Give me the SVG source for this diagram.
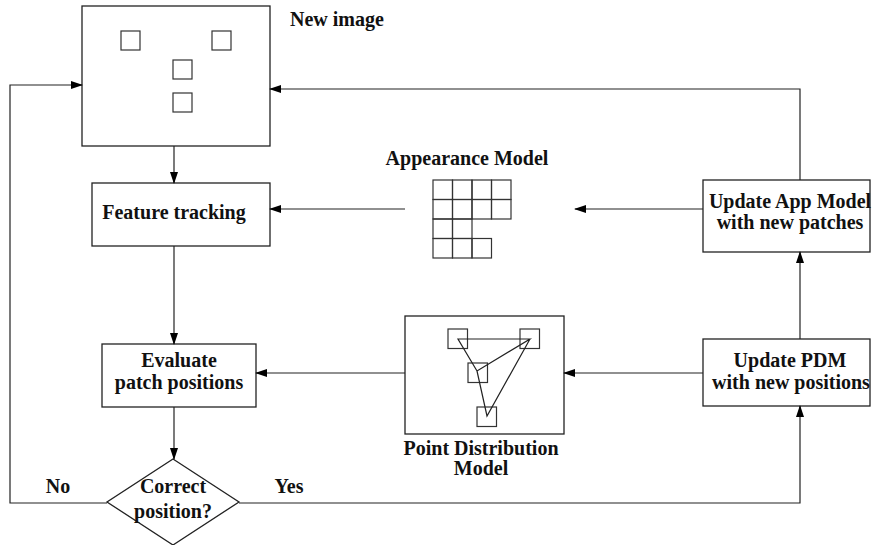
<svg xmlns="http://www.w3.org/2000/svg" width="872" height="545" viewBox="0 0 872 545">
<style>
.b{fill:#fff;stroke:#222;stroke-width:1.3}
.s{fill:none;stroke:#333;stroke-width:1.2}
.t{font-family:"Liberation Serif","Times New Roman",serif;font-weight:bold;font-size:20px;fill:#111;text-anchor:middle}
.c{fill:none;stroke:#222;stroke-width:1.2}
</style>
<defs>
<marker id="a" markerWidth="12" markerHeight="8" refX="11" refY="4" orient="auto" markerUnits="userSpaceOnUse">
<path d="M0,0 L12,4 L0,8 Z" fill="#000"/>
</marker>
</defs>
<rect width="872" height="545" fill="#fff"/>
<g id="new-image">
<rect class="b" x="82" y="6" width="188" height="140"/>
<rect class="s" x="121" y="31" width="19" height="19"/>
<rect class="s" x="212" y="31" width="19" height="19"/>
<rect class="s" x="173" y="60" width="19" height="19"/>
<rect class="s" x="173" y="93" width="19" height="19"/>
<text class="t" x="290" y="26" style="text-anchor:start">New image</text>
</g>
<g id="feature-tracking">
<rect class="b" x="92" y="183" width="178" height="63"/>
<text class="t" x="174" y="219">Feature tracking</text>
</g>
<g id="evaluate">
<rect class="b" x="102" y="344" width="154" height="63"/>
<text class="t" x="179" y="367">Evaluate</text>
<text class="t" x="179" y="389">patch positions</text>
</g>
<g id="decision">
<path class="b" d="M173,459 L239,502 L173,545 L107,502 Z"/>
<text class="t" x="173" y="493">Correct</text>
<text class="t" x="173" y="518">position?</text>
</g>
<g id="appearance-model">
<text class="t" x="467" y="165">Appearance Model</text>
<g class="s">
<rect x="433" y="180" width="19.5" height="19.5"/>
<rect x="452.5" y="180" width="19.5" height="19.5"/>
<rect x="472" y="180" width="19.5" height="19.5"/>
<rect x="491.5" y="180" width="19.5" height="19.5"/>
<rect x="433" y="199.5" width="19.5" height="19.5"/>
<rect x="452.5" y="199.5" width="19.5" height="19.5"/>
<rect x="472" y="199.5" width="19.5" height="19.5"/>
<rect x="491.5" y="199.5" width="19.5" height="19.5"/>
<rect x="433" y="219" width="19.5" height="19.5"/>
<rect x="452.5" y="219" width="19.5" height="19.5"/>
<rect x="433" y="238.5" width="19.5" height="19.5"/>
<rect x="452.5" y="238.5" width="19.5" height="19.5"/>
<rect x="472" y="238.5" width="19.5" height="19.5"/>
</g>
</g>
<g id="pdm">
<rect class="b" x="405" y="316" width="159" height="118"/>
<rect class="s" x="448" y="329" width="19.5" height="19.5"/>
<rect class="s" x="520" y="329" width="19.5" height="19.5"/>
<rect class="s" x="468" y="363" width="19.5" height="19.5"/>
<rect class="s" x="477" y="407" width="19.5" height="19.5"/>
<path class="c" d="M458,339 L530,339 L477,371 Z M477,371 L487,416 L530,339"/>
<text class="t" x="481" y="455">Point Distribution</text>
<text class="t" x="481" y="475">Model</text>
</g>
<g id="update-app">
<rect class="b" x="703" y="180" width="167" height="72"/>
<text class="t" x="790" y="208">Update App Model</text>
<text class="t" x="790" y="229">with new patches</text>
</g>
<g id="update-pdm">
<rect class="b" x="703" y="339" width="167" height="67"/>
<text class="t" x="790" y="367">Update PDM</text>
<text class="t" x="791" y="389">with new positions</text>
</g>
<g id="connectors" class="c">
<path d="M174,146 L174,183" marker-end="url(#a)"/>
<path d="M174,246 L174,344" marker-end="url(#a)"/>
<path d="M174,407 L174,459" marker-end="url(#a)"/>
<path d="M107,503 L10,503 L10,85 L82,85" marker-end="url(#a)"/>
<path d="M239,503 L800,503 L800,406" marker-end="url(#a)"/>
<path d="M800,339 L800,252" marker-end="url(#a)"/>
<path d="M800,180 L800,89 L270,89" marker-end="url(#a)"/>
<path d="M703,209 L575,209" marker-end="url(#a)"/>
<path d="M405,209 L270,209" marker-end="url(#a)"/>
<path d="M703,373 L564,373" marker-end="url(#a)"/>
<path d="M405,373 L256,373" marker-end="url(#a)"/>
<text class="t" x="58" y="493" style="stroke:none">No</text>
<text class="t" x="289" y="493" style="stroke:none">Yes</text>
</g>
</svg>
